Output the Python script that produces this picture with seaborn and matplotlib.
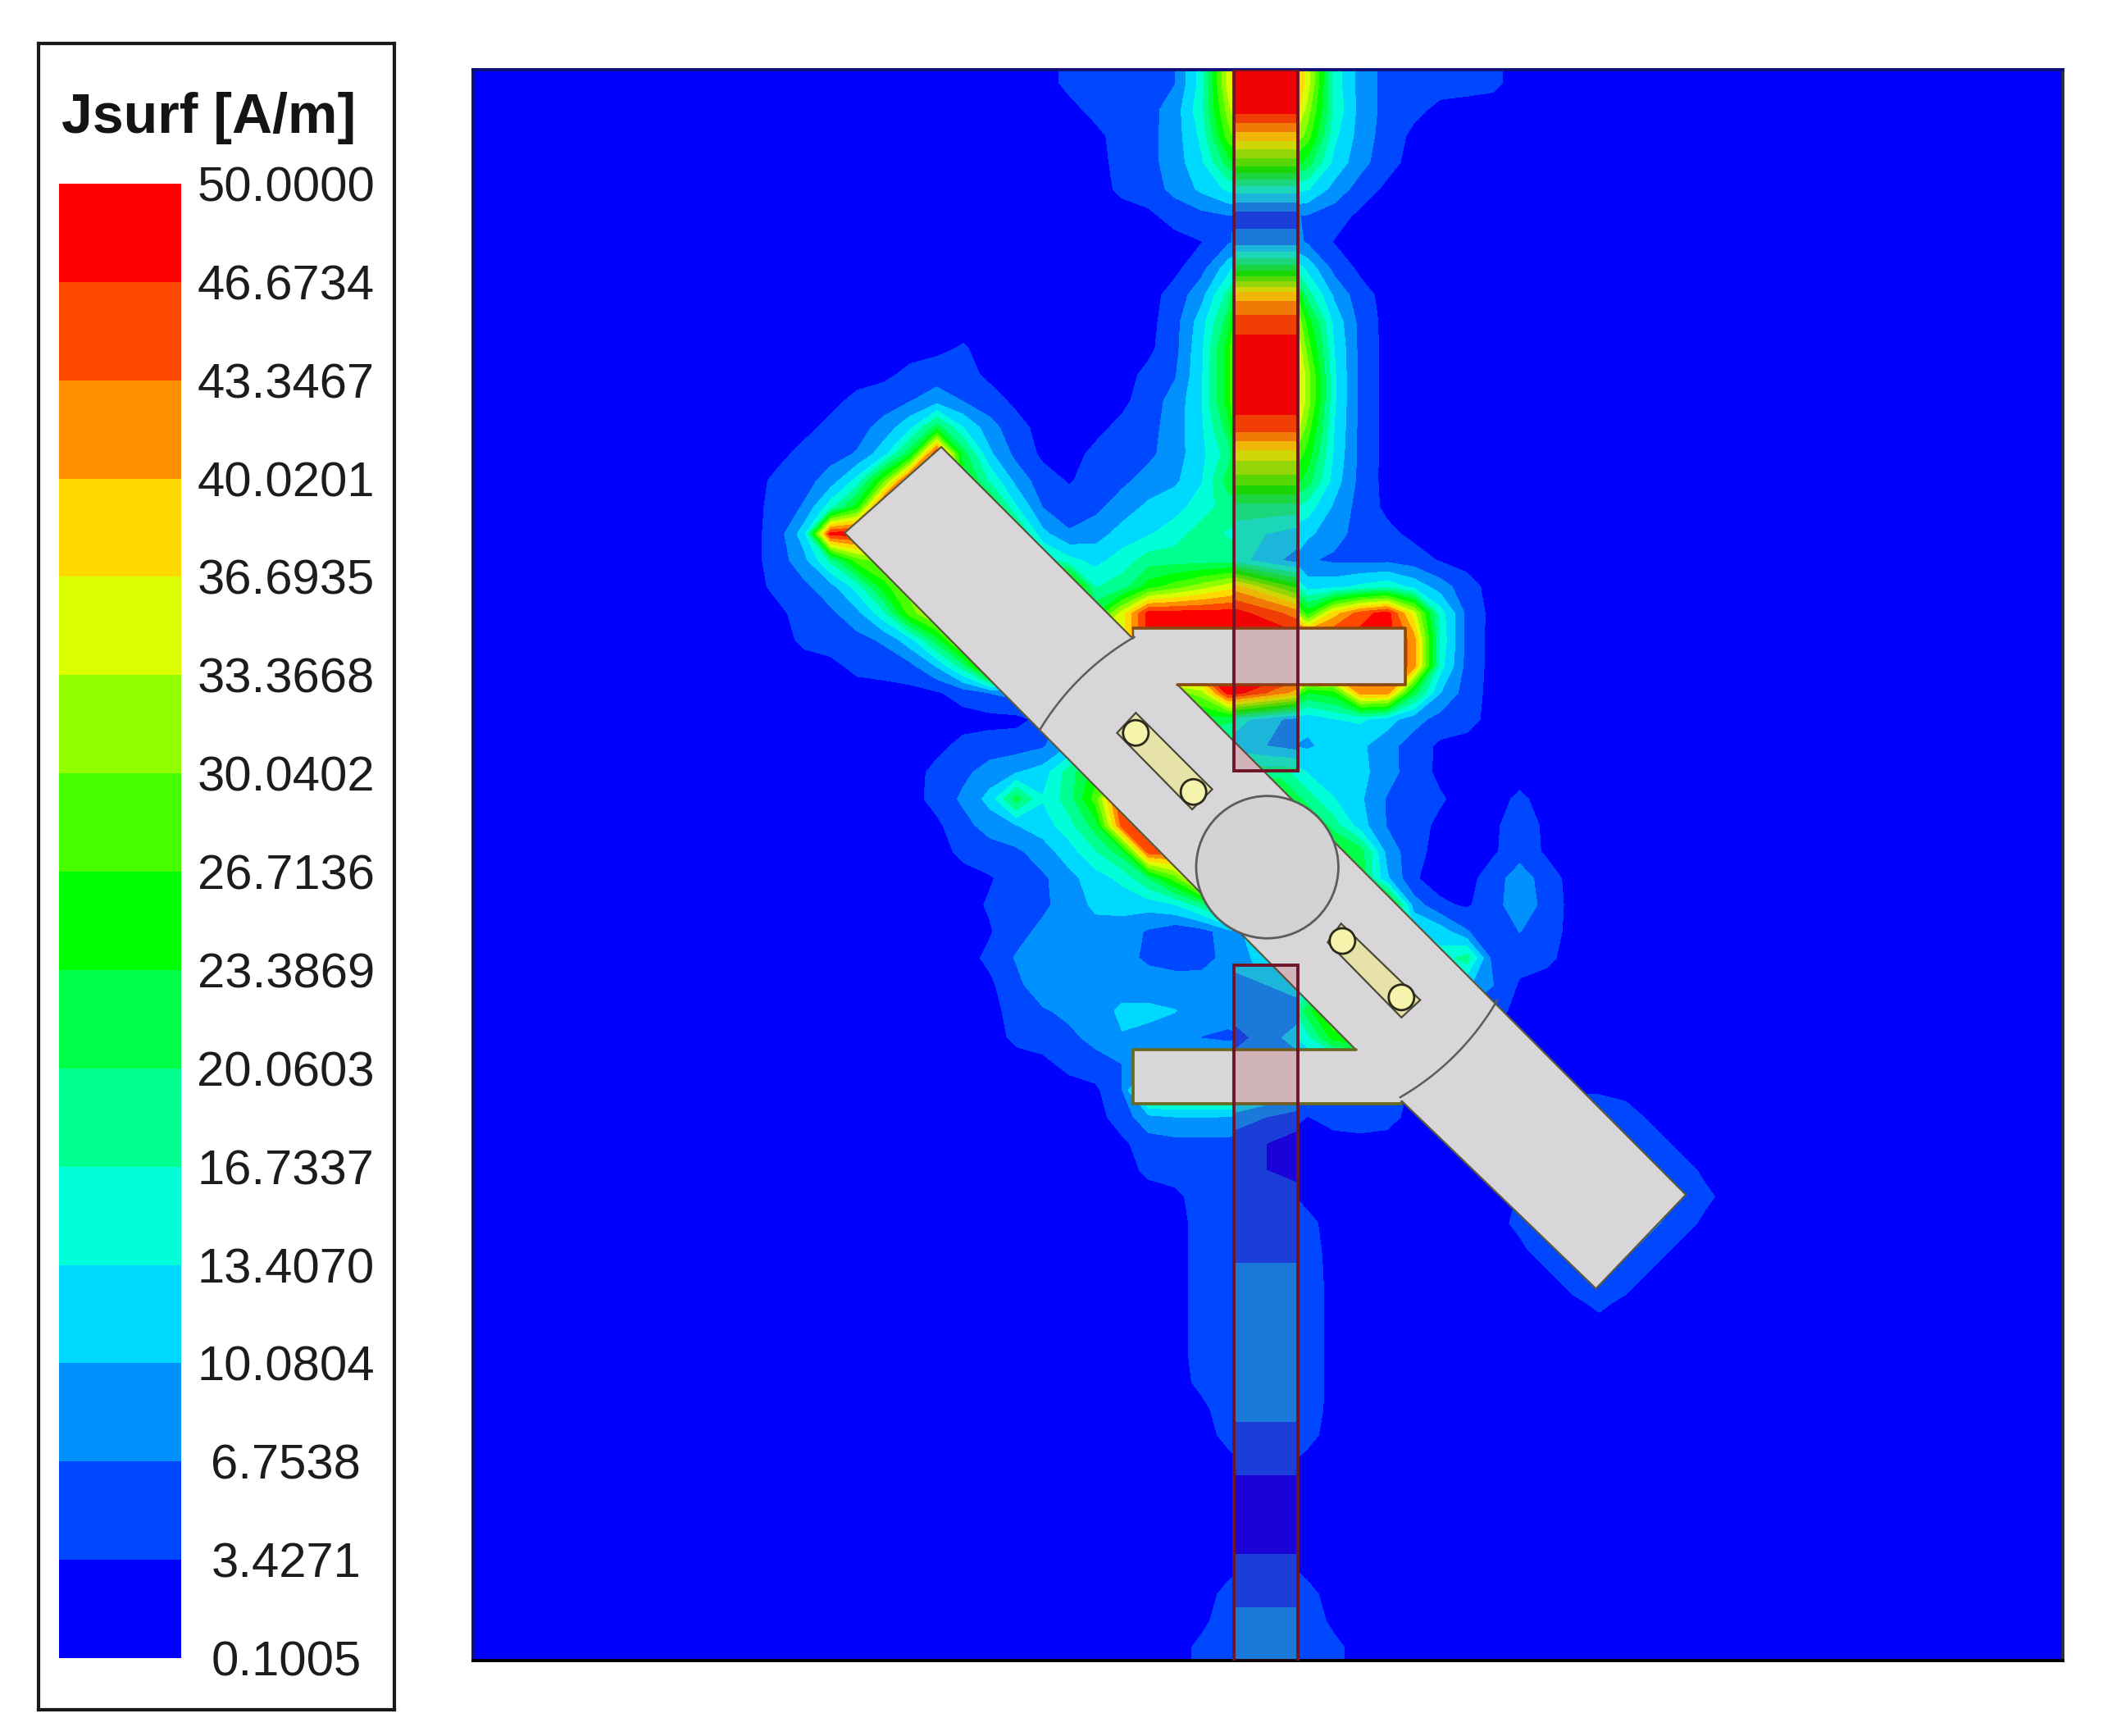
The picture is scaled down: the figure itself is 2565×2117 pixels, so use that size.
#!/usr/bin/env python3

import matplotlib
matplotlib.use('Agg')
import matplotlib.pyplot as plt
from matplotlib.colors import ListedColormap
from matplotlib.patches import Circle, Polygon
import numpy as np
import seaborn as sns

COLORBAR_TITLE = 'Jsurf [A/m]'
TICK_LABELS = ['50.0000', '46.6734', '43.3467', '40.0201', '36.6935', '33.3668', '30.0402', '26.7136',
               '23.3869', '20.0603', '16.7337', '13.4070', '10.0804', '6.7538', '3.4271', '0.1005']
# bottom to top
BAND_COLORS = ['#0000ff', '#0048ff', '#0091ff', '#00d9ff', '#00ffd9', '#00ff91', '#00ff48', '#00ff00',
               '#48ff00', '#91ff00', '#d9ff00', '#ffd900', '#ff9100', '#ff4800', '#ff0000']

# Band index (hex digit), 60 rows, columns 10..49 of 60
FIELD_ROWS = [
    '0000000000 00111113ae ea32111110 0000000000',
    '0000000000 000111249e e942110000 0000000000',
    '0000000000 000011238b b832100000 0000000000',
    '0000000000 0000112368 8632100000 0000000000',
    '0000000000 0000112344 4421000000 0000000000',
    '0000000000 0000001111 1110000000 0000000000',
    '0000000000 0000000012 2100000000 0000000000',
    '0000000000 0000000136 6310000000 0000000000',
    '0000000000 000000124b b521000000 0000000000',
    '0000000000 000000136d d731000000 0000000000',
    '0000000010 000000137e e831000000 0000000000',
    '0000001110 000001137e e931000000 0000000000',
    '0000111211 000001237e e931000000 0000000000',
    '0001123632 100011236d d831000000 0000000000',
    '0011124e62 100111235a a731000000 0000000000',
    '011238ec74 2101122368 8631000000 0000000000',
    '01127eeca7 3111233455 5421000000 0000000000',
    '012eeeaaaa 6212334544 3321100000 0000000000',
    '0123899999 9533455554 2111110000 0000000000',
    '0112379999 99935789ab 7122322100 0000000000',
    '0011248aaa aaa4aeeeee c7bdea4100 0000000000',
    '00111126aa aaaaaeeeee eeeeec3100 0000000000',
    '000011125a aaaaaeeeee eeeeec3100 0000000000',
    '0000000000 02444489ee b47cc62100 0000000000',
    '0000000000 0024445644 2232111100 0000000000',
    '0000000011 1123444443 2233210010 0000000000',
    '0000000112 2357777755 5333210000 0000000000',
    '0000000123 6358eeeee8 7533111001 0000000000',
    '0000000012 2346deeeee 7752110002 0000000000',
    '0000000011 12346ddddd 7776210001 0000000000',
    '0000000000 1123348ccc 6666100013 1000000000',
    '0000000001 1123333488 8888810013 1000000000',
    '0000000000 1222210011 4444444102 1000000000',
    '0000000001 2222211123 4444444501 1000000000',
    '0000000000 1322222222 3333333320 0000000000',
    '0000000000 1122333222 2691111110 0000000000',
    '0000000000 1112322111 3478111100 0000000000',
    '0000000000 0011122222 2221000000 0000000000',
    '0000000000 0000166665 3122200000 0000000000',
    '0000000000 0000122222 1011100012 2221000000',
    '0000000000 0000011111 0000000022 2222100000',
    '0000000000 0000011111 0000000001 2222210000',
    '0000000000 0000000111 1000000000 2222221000',
    '0000000000 0000000111 1100000001 2222210000',
    '0000000000 0000000111 1100000000 1222100000',
    '0000000000 0000000112 2100000000 0121000000',
    '0000000000 0000000112 2100000000 0010000000',
    '0000000000 0000000112 2100000000 0000000000',
    '0000000000 0000000112 2100000000 0000000000',
    '0000000000 0000000112 2100000000 0000000000',
    '0000000000 0000000012 2100000000 0000000000',
    '0000000000 0000000011 1100000000 0000000000',
    '0000000000 0000000001 1000000000 0000000000',
    '0000000000 0000000000 0000000000 0000000000',
    '0000000000 0000000000 0000000000 0000000000',
    '0000000000 0000000000 0000000000 0000000000',
    '0000000000 0000000001 1000000000 0000000000',
    '0000000000 0000000011 1100000000 0000000000',
    '0000000000 0000000012 2100000000 0000000000',
    '0000000000 0000000112 2110000000 0000000000',
]

# Antenna outline, in pixels of the 1568 wide view of the picture
PATCH_OUTLINE = [(702, 333), (845, 476), (845, 468), (1048, 468), (1048, 510), (878, 510), (1257, 890),
                 (1190, 960), (1045, 820), (1045, 822), (845, 822), (845, 782), (1011, 782), (630, 397)]
UPPER_ARM_EDGE = [(845, 468), (1048, 468), (1048, 510), (878, 510)]
LOWER_ARM_EDGE = [(1011, 782), (845, 782), (845, 822), (1045, 822)]
HUB_CENTER = (945, 646)
HUB_RADIUS = 53
ARC_RADIUS = 198
ARC_ANGLES = [(-149, -120), (30, 60)]
SLOT_OUTLINES = [[(847, 531), (833, 546), (889, 603), (904, 588)],
                 [(1000, 688), (990, 702), (1045, 758), (1059, 745)]]
SLOT_HOLES = [(847, 546), (890, 590), (1001, 701), (1045, 743)]
FEED_LINES = [[(920, 52), (968, 52), (968, 574), (920, 574)],
              [(920, 719), (968, 719), (968, 1238), (920, 1238)]]
FEED_COLUMNS = [29, 30]

FIG_W, FIG_H = 2565, 2117
PLOT_X0, PLOT_Y0, PLOT_W = 353, 52, 1185
KEEP_ABOVE = 16.0


def add_axes(fig, left, top, right, bottom):
    return fig.add_axes([left / FIG_W, 1 - bottom / FIG_H, (right - left) / FIG_W, (bottom - top) / FIG_H])


def to_cell(points, n_cells):
    pts = np.array(points, dtype=float)
    pts[:, 0] = (pts[:, 0] - PLOT_X0) / PLOT_W * n_cells
    pts[:, 1] = (pts[:, 1] - PLOT_Y0) / PLOT_W * n_cells
    return pts


def soften(values):
    # Takes the stairs of the coarse reading out of the low band outlines, hot cells stay as read
    kernel = np.array([1, 4, 1]) / 6
    out = np.pad(values, 1, mode='edge')
    out = np.apply_along_axis(lambda r: np.convolve(r, kernel, mode='same'), 0, out)
    out = np.apply_along_axis(lambda r: np.convolve(r, kernel, mode='same'), 1, out)
    return np.where(values > KEEP_ABOVE, values, out[1:-1, 1:-1])


def main():
    sns.set_theme(style='white')
    plt.rcParams['font.family'] = ['Liberation Sans', 'DejaVu Sans']

    tick_values = np.array([float(t) for t in TICK_LABELS])[::-1]
    mids = (tick_values[:-1] + tick_values[1:]) / 2
    band_cmap = ListedColormap(BAND_COLORS)

    rows = [r.replace(' ', '') for r in FIELD_ROWS]
    bands = np.array([[0] * 10 + [int(c, 16) for c in r] + [0] * 10 for r in rows])
    field = mids[bands]
    n_cells = field.shape[0]

    fig = plt.figure(figsize=(FIG_W / 100, FIG_H / 100), dpi=100, facecolor='white')

    # Field plot
    ax = add_axes(fig, 577, 85, 2516, 2025)
    sns.heatmap(field, ax=ax, cmap=band_cmap, vmin=tick_values[0], vmax=tick_values[-1], cbar=False,
                xticklabels=False, yticklabels=False)
    centers = np.arange(n_cells) + 0.5
    x_grid = np.r_[0, centers, n_cells]
    ax.contourf(x_grid, x_grid, np.pad(soften(field), 1, mode='edge'), levels=tick_values, colors=BAND_COLORS, zorder=2)

    # The current inside the feed lines runs across their whole width
    feed_x = to_cell([(920, 0), (968, 0)], n_cells)[:, 0]
    feed_values = np.pad(field[:, FEED_COLUMNS], ((1, 1), (0, 0)), mode='edge')
    for line in FEED_LINES:
        clip = Polygon(to_cell(line, n_cells), closed=True, transform=ax.transData)
        bands_in_line = ax.contourf(feed_x, x_grid, feed_values, levels=tick_values, colors=BAND_COLORS, zorder=2.5)
        bands_in_line.set_clip_path(clip)

    ax.add_patch(Polygon(to_cell(PATCH_OUTLINE, n_cells), closed=True, facecolor='#d9d6d9', edgecolor='#5a5a40', linewidth=1.6, zorder=3))
    for edge, color in ((UPPER_ARM_EDGE, '#8a4a14'), (LOWER_ARM_EDGE, '#6a6a20')):
        pts = to_cell(edge, n_cells)
        ax.plot(pts[:, 0], pts[:, 1], color=color, linewidth=2.6, zorder=3.5)

    hub = to_cell([HUB_CENTER], n_cells)[0]
    ax.add_patch(Circle(hub, HUB_RADIUS / PLOT_W * n_cells, facecolor='#d3d3d3', edgecolor='#5c5c5c', linewidth=2, zorder=4))
    for start, stop in ARC_ANGLES:
        theta = np.radians(np.linspace(start, stop, 30))
        ax.plot(hub[0] + ARC_RADIUS / PLOT_W * n_cells * np.cos(theta),
                hub[1] + ARC_RADIUS / PLOT_W * n_cells * np.sin(theta),
                color='#5c5c5c', linewidth=1.8, zorder=4)

    for slot in SLOT_OUTLINES:
        ax.add_patch(Polygon(to_cell(slot, n_cells), closed=True, facecolor='#e6e2a8', edgecolor='#4a4a3a', linewidth=1.6, zorder=4))
    for hole in SLOT_HOLES:
        ax.add_patch(Circle(to_cell([hole], n_cells)[0], 9.5 / PLOT_W * n_cells, facecolor='#f6f3ac', edgecolor='#2a2a1a', linewidth=2, zorder=4.5))

    for line in FEED_LINES:
        ax.add_patch(Polygon(to_cell(line, n_cells), closed=True, facecolor=(0.65, 0.05, 0.12, 0.17), edgecolor='none', zorder=5))
        ax.add_patch(Polygon(to_cell(line, n_cells), closed=True, fill=False, edgecolor='#6e1528', linewidth=2.8, zorder=5.5))

    for side, color in (('top', '#10107a'), ('left', '#10107a'), ('right', '#2c2c50'), ('bottom', '#000000')):
        ax.spines[side].set_visible(True)
        ax.spines[side].set_color(color)
        ax.spines[side].set_linewidth(2.8)

    # Legend frame and title
    box = add_axes(fig, 47, 53, 481, 2085)
    box.set(xticks=[], yticks=[], xlim=(47, 481), ylim=(2085, 53))
    for spine in box.spines.values():
        spine.set_visible(True)
        spine.set_color('#1a1a1a')
        spine.set_linewidth(3)
    box.text(255, 144, COLORBAR_TITLE, fontsize=49, fontweight='bold', color='#141414', ha='center', va='center')

    # Legend swatches, red on top
    swatch = add_axes(fig, 72, 224, 221, 2022)
    sns.heatmap(np.arange(len(BAND_COLORS))[::-1].reshape(-1, 1), ax=swatch, cmap=band_cmap, cbar=False,
                xticklabels=False, yticklabels=False)
    swatch.yaxis.tick_right()
    swatch.set_yticks(np.arange(len(TICK_LABELS)))
    swatch.set_yticklabels(TICK_LABELS, fontsize=43, color='#1c1c1c', ha='center', rotation=0)
    swatch.tick_params(axis='y', length=0, pad=92)

    fig.savefig('out.png', dpi=100, facecolor='white')


if __name__ == '__main__':
    main()
